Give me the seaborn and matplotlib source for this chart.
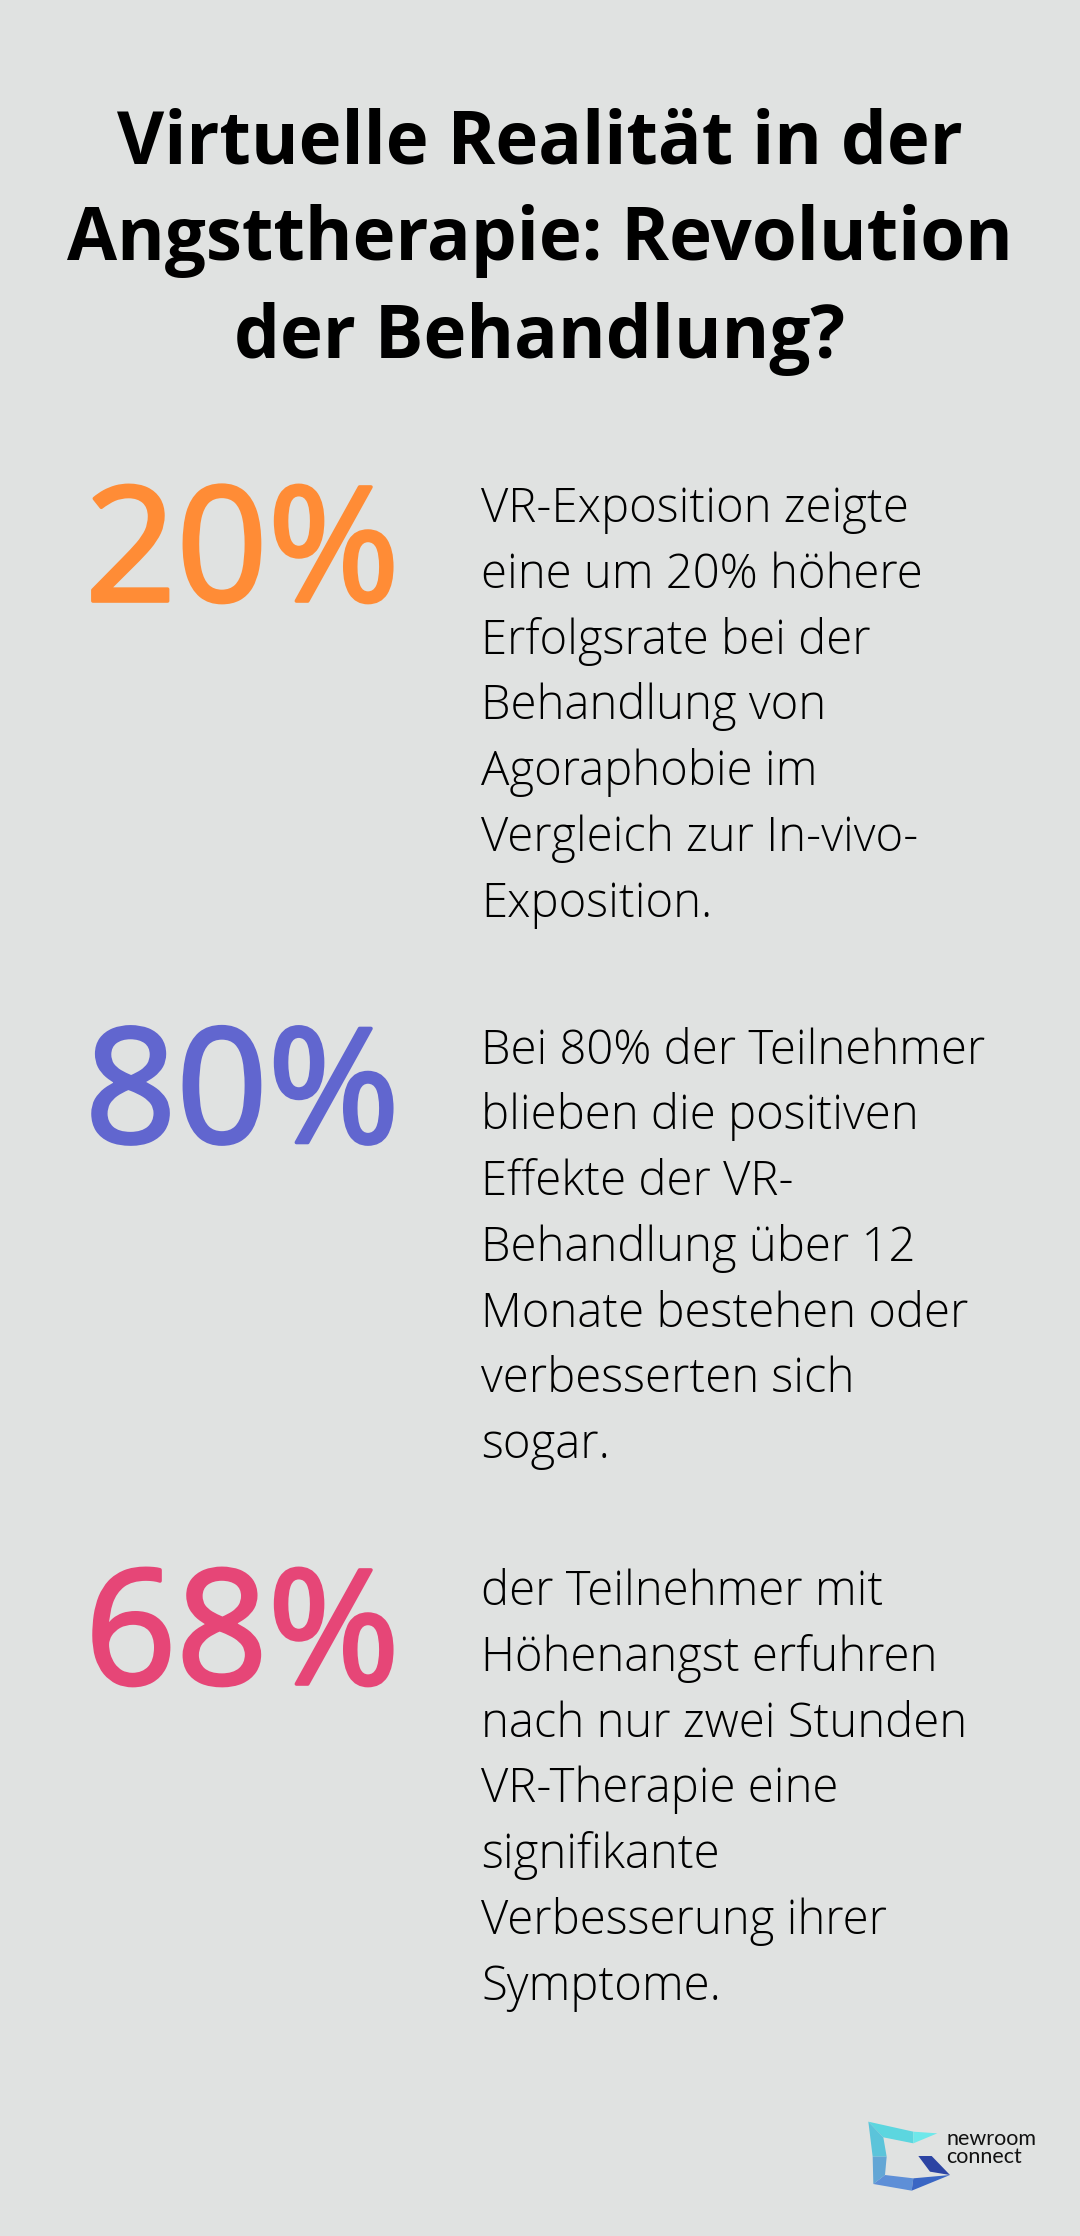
import seaborn as sns
import matplotlib.pyplot as plt
import matplotlib.patheffects as pe
from matplotlib.patches import Polygon

sns.set_theme(style='white')
plt.rcParams['font.family'] = ['Open Sans', 'DejaVu Sans']

# data
title_lines = ['Virtuelle Realität in der', 'Angsttherapie: Revolution', 'der Behandlung?']
stat_values = ['20%', '80%', '68%']
stat_colors = ['#FF8C36', '#6166CF', '#E64677']
stat_texts = [
    ['VR-Exposition zeigte', 'eine um 20% höhere', 'Erfolgsrate bei der', 'Behandlung von',
     'Agoraphobie im', 'Vergleich zur In-vivo-', 'Exposition.'],
    ['Bei 80% der Teilnehmer', 'blieben die positiven', 'Effekte der VR-', 'Behandlung über 12',
     'Monate bestehen oder', 'verbesserten sich', 'sogar.'],
    ['der Teilnehmer mit', 'Höhenangst erfuhren', 'nach nur zwei Stunden', 'VR-Therapie eine',
     'signifikante', 'Verbesserung ihrer', 'Symptome.'],
]

bg = '#E0E2E1'
W, H = 1080, 2236
fig = plt.figure(figsize=(W / 100, H / 100), dpi=100, facecolor=bg)
ax = fig.add_axes([0, 0, 1, 1])
ax.set_facecolor(bg)
ax.set_xlim(0, W)
ax.set_ylim(H, 0)
ax.axis('off')

# title
for i, line in enumerate(title_lines):
    ax.text(540, 163 + i * 97.5, line, ha='center', va='baseline',
            fontsize=52.3, fontweight='bold', color='black')

# stat blocks
for k, (val, col, lines) in enumerate(zip(stat_values, stat_colors, stat_texts)):
    base = 522 + k * 541.5
    ax.text(85, base + 79, val, ha='left', va='baseline', fontsize=115, color=col,
            path_effects=[pe.withStroke(linewidth=2.6, foreground=col)])
    for j, ln in enumerate(lines):
        ax.text(481, base + j * 65.8, ln, ha='left', va='baseline',
                fontsize=34, fontweight='light', color='black')

# logo
def pt(px, py):
    return (850 + px / 3, 2060 + py / 3)

logo = [
    ([(55, 185), (190, 215), (190, 250), (100, 232)], '#5CD6DF'),
    ([(190, 215), (262, 220), (190, 250)], '#6EE8EA'),
    ([(55, 185), (100, 232), (110, 290), (68, 290)], '#5BC4DA'),
    ([(68, 290), (110, 290), (105, 345), (70, 372)], '#63A6D5'),
    ([(70, 372), (105, 345), (190, 355), (185, 392)], '#5E8FD7'),
    ([(185, 392), (190, 355), (300, 345)], '#3A66C4'),
    ([(205, 288), (245, 288), (300, 345), (240, 335)], '#2C44A3'),
]
for poly, c in logo:
    ax.add_patch(Polygon([pt(*p) for p in poly], closed=True, facecolor=c, edgecolor='none'))
for txt, y in [('newroom', 2145), ('connect', 2163)]:
    ax.text(946, y, txt, ha='left', va='baseline', fontsize=15.5,
            fontweight='normal', color='#111111', family=['Lato', 'DejaVu Sans'])

fig.savefig('out.png', dpi=100, facecolor=bg)
